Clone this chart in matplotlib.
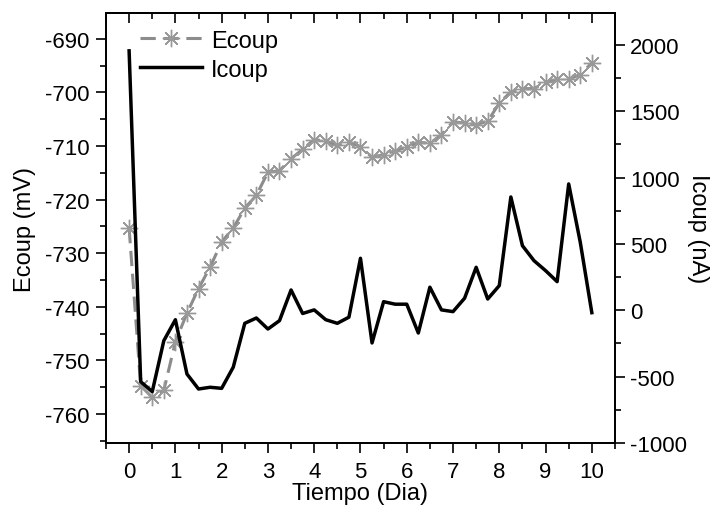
import numpy as np
import matplotlib
matplotlib.use('Agg')
import matplotlib.pyplot as plt
from matplotlib.ticker import MultipleLocator

plt.rcParams['font.family'] = ['Liberation Sans', 'DejaVu Sans']
plt.rcParams['axes.unicode_minus'] = False

# time in days, every 6 h
dias = np.arange(41) * 0.25

# coupling potential (mV)
ecoup = [-725.3, -754.7, -756.9, -755.6, -746.5, -741.2, -736.6, -732.6, -727.9, -725.3,
         -721.6, -719.2, -714.9, -714.6, -712.4, -710.6, -708.8, -709.1, -709.9, -709.3,
         -710.1, -712.1, -711.6, -710.9, -710.2, -709.3, -709.5, -707.9, -705.5, -705.7,
         -706.0, -705.4, -702.0, -699.9, -699.3, -699.3, -698.1, -697.6, -697.5, -696.7,
         -694.5]

# coupling current (nA)
icoup = [1955, -538, -613, -229, -71, -480, -593, -580, -588, -429,
         -98, -58, -141, -78, 153, -24, 3, -71, -98, -52,
         392, -246, 65, 46, 46, -171, 174, 3, -10, 91,
         324, 85, 186, 854, 487, 374, 299, 216, 952, 513,
         -18]

fig = plt.figure(figsize=(7.18, 5.06), dpi=100)
ax = fig.add_axes([0.1476, 0.1225, 0.7089, 0.8498])
ax2 = ax.twinx()

gris = '#8c8c8c'
l1, = ax.plot(dias, ecoup, color=gris, lw=2.2, dashes=(5, 2.5),
              marker=(8, 2, 0), ms=12.5, mec='#999999', mew=1.0, label='Ecoup')
l2, = ax2.plot(dias, icoup, color='black', lw=2.5, label='Icoup')

ax.set_xlim(-0.5, 10.5)
ax.set_ylim(-765.4, -685.2)
ax2.set_ylim(-1000, 2240)

ax.xaxis.set_major_locator(MultipleLocator(1))
ax.xaxis.set_minor_locator(MultipleLocator(0.5))
ax.yaxis.set_major_locator(MultipleLocator(10))
ax.yaxis.set_minor_locator(MultipleLocator(5))
ax2.yaxis.set_major_locator(MultipleLocator(500))
ax2.yaxis.set_minor_locator(MultipleLocator(250))

fs = 16
ax.tick_params(axis='x', which='major', direction='out', length=7, width=1.2, labelsize=fs, pad=6)
ax.tick_params(axis='x', which='minor', direction='out', length=4, width=1.2)
ax.tick_params(axis='y', which='major', direction='out', length=7, width=1.2, labelsize=fs, pad=5)
ax.tick_params(axis='y', which='minor', direction='out', length=4, width=1.2)
ax2.tick_params(axis='y', which='major', direction='out', length=7, width=1.2, labelsize=fs, pad=4)
ax2.tick_params(axis='y', which='minor', direction='out', length=4, width=1.2)

# mirrored top axis, ticks inward, no labels
top = ax.secondary_xaxis('top')
top.xaxis.set_major_locator(MultipleLocator(1))
top.xaxis.set_minor_locator(MultipleLocator(0.5))
top.tick_params(which='major', direction='in', length=7, width=1.2, labeltop=False)
top.tick_params(which='minor', direction='in', length=4, width=1.2)

for a in (ax, ax2, top):
    for s in a.spines.values():
        s.set_linewidth(1.3)

ax.set_xlabel('Tiempo (Dia)', fontsize=fs + 1, labelpad=0)
ax.set_ylabel('Ecoup (mV)', fontsize=fs + 1, labelpad=6)
ax2.set_ylabel('Icoup (nA)', fontsize=fs + 1, rotation=-90, labelpad=16)

ax.legend(handles=[l1, l2], loc='upper left', bbox_to_anchor=(0.035, 1.0),
          frameon=False, fontsize=fs + 1, handlelength=2.6, handletextpad=0.4,
          labelspacing=0.3, borderaxespad=0.3)

fig.savefig('out.png', dpi=100)
